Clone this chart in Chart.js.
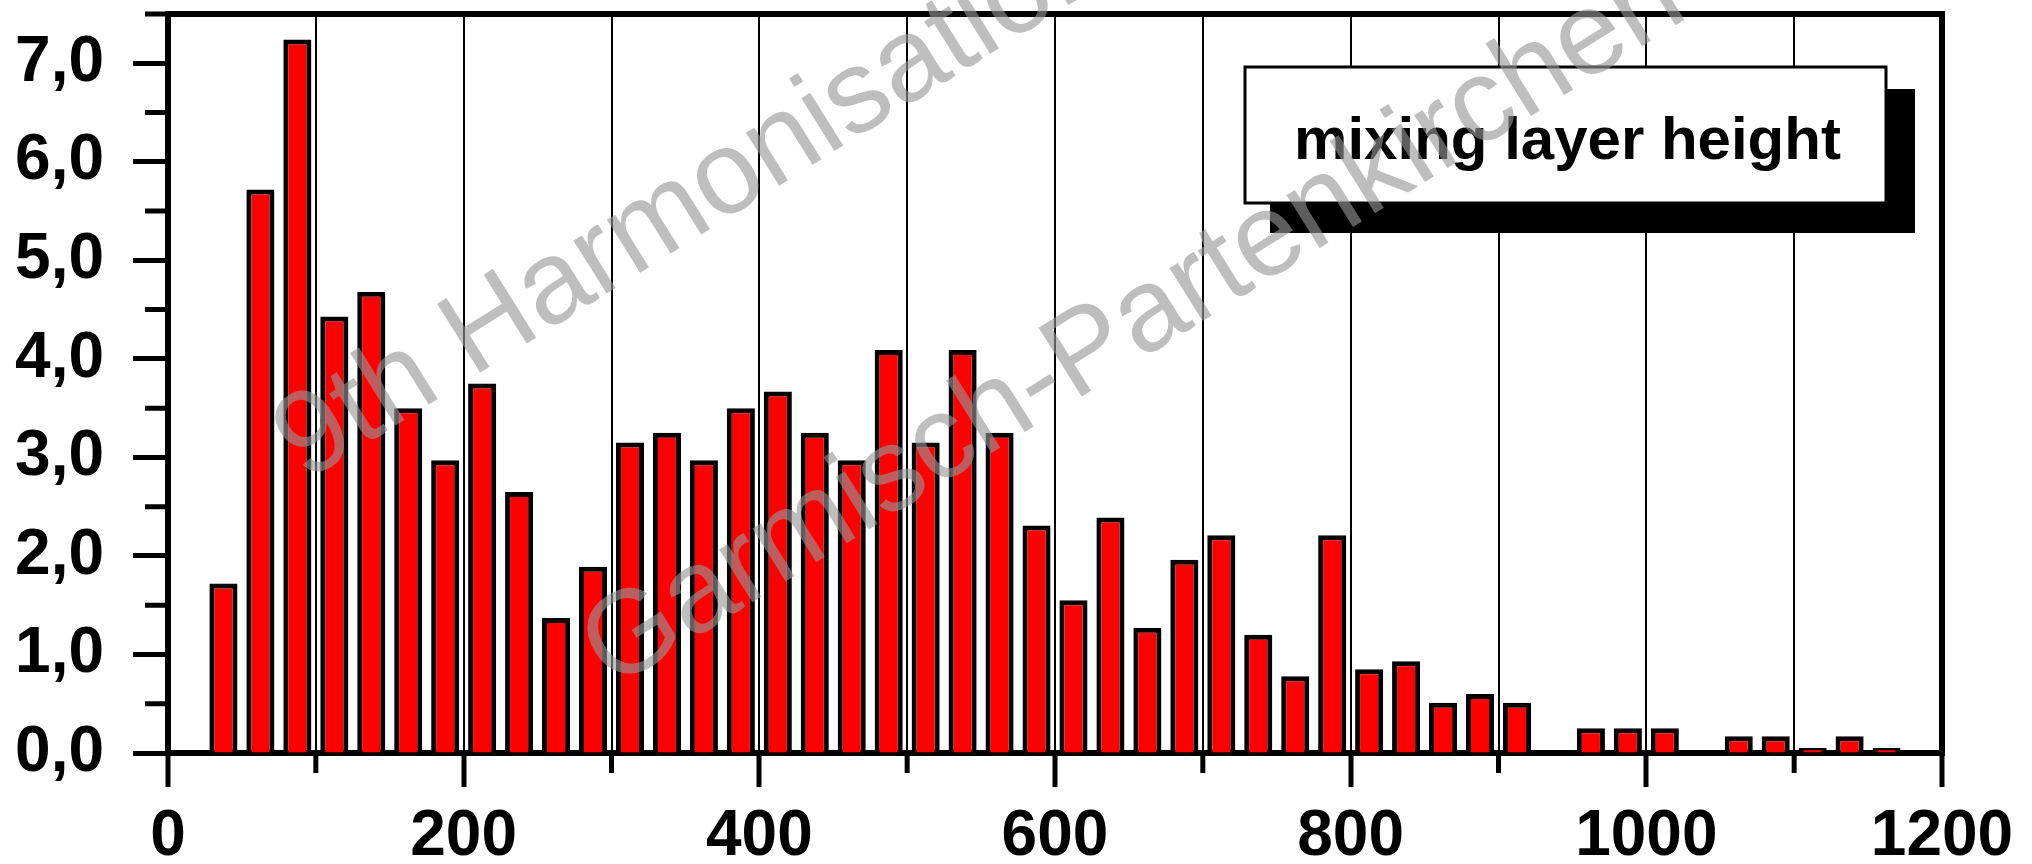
<!DOCTYPE html>
<html>
<head>
<meta charset="utf-8">
<title>mixing layer height</title>
<script src="https://cdn.jsdelivr.net/npm/chart.js@4.4.1/dist/chart.umd.min.js"></script>
<style>
  html, body { margin: 0; padding: 0; background: #fff; }
  #wrap { width: 2032px; height: 864px; position: relative; }
</style>
</head>
<body>
<div id="wrap"><canvas id="mlhChart"></canvas></div>
<script>
// ---------- data ----------
const binCenters = [
  37.5, 62.5, 87.5, 112.5, 137.5, 162.5, 187.5, 212.5, 237.5, 262.5,
  287.5, 312.5, 337.5, 362.5, 387.5, 412.5, 437.5, 462.5, 487.5, 512.5,
  537.5, 562.5, 587.5, 612.5, 637.5, 662.5, 687.5, 712.5, 737.5, 762.5,
  787.5, 812.5, 837.5, 862.5, 887.5, 912.5, 937.5, 962.5, 987.5, 1012.5,
  1037.5, 1062.5, 1087.5, 1112.5, 1137.5, 1162.5
];
const frequency = [
  1.72, 5.72, 7.24, 4.43, 4.68, 3.50, 2.97, 3.75, 2.65, 1.37,
  1.89, 3.15, 3.25, 2.97, 3.50, 3.67, 3.25, 2.97, 4.09, 3.15,
  4.09, 3.25, 2.31, 1.55, 2.39, 1.27, 1.96, 2.21, 1.20, 0.78,
  2.21, 0.85, 0.93, 0.51, 0.60, 0.51, 0, 0.25, 0.25, 0.25,
  0, 0.17, 0.17, 0.05, 0.17, 0.05
];
const seriesName = "mixing layer height";

// tick positions (every tick gets a mark, only the "labeled" ones get text)
const xTicks = [0, 100, 200, 300, 400, 500, 600, 700, 800, 900, 1000, 1100, 1200];
const xLabeled = [0, 200, 400, 600, 800, 1000, 1200];
const yTicks = [0, 0.5, 1, 1.5, 2, 2.5, 3, 3.5, 4, 4.5, 5, 5.5, 6, 6.5, 7, 7.5];
const yLabeled = [0, 1, 2, 3, 4, 5, 6, 7];

const watermarkLines = ["9th Harmonisation Conference", "Garmisch-Partenkirchen"];

const FONT = '"Liberation Sans", Arial, sans-serif';

// ---------- plugins ----------
// top/right frame + short minor ticks
const framePlugin = {
  id: "frame",
  afterDraw(chart) {
    const { ctx, chartArea: a, scales } = chart;
    ctx.save();
    ctx.strokeStyle = "#000";
    ctx.lineCap = "butt";

    ctx.lineWidth = 6;
    ctx.beginPath();
    ctx.moveTo(a.left - 3, a.top);
    ctx.lineTo(a.right, a.top);
    ctx.lineTo(a.right, a.bottom + 3);
    ctx.stroke();

    ctx.lineWidth = 5;
    ctx.beginPath();
    scales.y.ticks.forEach((t) => {
      if (yLabeled.includes(t.value)) return;
      const y = scales.y.getPixelForValue(t.value);
      ctx.moveTo(a.left - 3, y);
      ctx.lineTo(a.left - 23, y);
    });
    scales.x.ticks.forEach((t) => {
      if (xLabeled.includes(t.value)) return;
      const x = scales.x.getPixelForValue(t.value);
      ctx.moveTo(x, a.bottom + 3);
      ctx.lineTo(x, a.bottom + 20);
    });
    ctx.stroke();
    ctx.restore();
  }
};

// boxed legend with a solid drop shadow
const legendBoxPlugin = {
  id: "legendBox",
  afterDraw(chart) {
    const { ctx, chartArea: a } = chart;
    const x = a.right - 697, y = a.top + 53, w = 641, h = 136;
    ctx.save();
    ctx.fillStyle = "#000";
    ctx.fillRect(x + 25, y + 22, w + 4, h + 8);
    ctx.fillStyle = "#fff";
    ctx.fillRect(x, y, w, h);
    ctx.lineWidth = 3;
    ctx.strokeStyle = "#000";
    ctx.strokeRect(x, y, w, h);
    ctx.fillStyle = "#000";
    ctx.font = "bold 60px " + FONT;
    ctx.textAlign = "center";
    ctx.textBaseline = "alphabetic";
    ctx.fillText(chart.data.datasets[0].label, x + w / 2 + 2, y + 92);
    ctx.restore();
  }
};

// grey diagonal text stamped over the plot
const watermarkPlugin = {
  id: "watermark",
  afterDraw(chart) {
    const { ctx } = chart;
    const angle = -32 * Math.PI / 180;
    const starts = [[305, 482], [612, 690]];
    ctx.save();
    ctx.fillStyle = "rgba(150,150,150,0.62)";
    ctx.font = "118px " + FONT;
    ctx.textAlign = "left";
    ctx.textBaseline = "alphabetic";
    watermarkLines.forEach((txt, i) => {
      ctx.save();
      ctx.translate(starts[i][0], starts[i][1]);
      ctx.rotate(angle);
      ctx.fillText(txt, 0, 0);
      ctx.restore();
    });
    ctx.restore();
  }
};

// ---------- chart ----------
const tickFont = { family: FONT, weight: "bold", size: 64 };

new Chart(document.getElementById("mlhChart"), {
  type: "bar",
  data: {
    datasets: [
      {
        label: seriesName,
        data: binCenters.map((x, i) => ({ x: x, y: frequency[i] })),
        backgroundColor: "#ff0000",
        borderColor: "#000",
        borderWidth: 5,
        borderSkipped: "start",
        barPercentage: 0.76,
        categoryPercentage: 1.0
      }
    ]
  },
  options: {
    responsive: true,
    maintainAspectRatio: false,
    animation: false,
    devicePixelRatio: 1,
    layout: { padding: { top: 14, right: 90, left: 0, bottom: 0 } },
    plugins: {
      legend: { display: false },
      tooltip: { enabled: false }
    },
    scales: {
      x: {
        type: "linear",
        min: 0,
        max: 1200,
        offset: false,
        z: 1,
        afterBuildTicks: (s) => { s.ticks = xTicks.map((v) => ({ value: v })); },
        afterFit: (s) => { s.height = 111; s.paddingLeft = 0; s.paddingRight = 0; },
        grid: {
          offset: false,
          color: "#000",
          lineWidth: 2,
          tickLength: 34,
          tickWidth: 5,
          tickColor: (c) => (c.tick && xLabeled.includes(c.tick.value) ? "#000" : "rgba(0,0,0,0)")
        },
        border: { color: "#000", width: 6 },
        ticks: {
          autoSkip: false,
          maxRotation: 0,
          padding: 12,
          color: "#000",
          font: tickFont,
          callback: (v) => (xLabeled.includes(v) ? String(v) : "")
        }
      },
      y: {
        min: 0,
        max: 7.5,
        afterBuildTicks: (s) => { s.ticks = yTicks.map((v) => ({ value: v })); },
        afterFit: (s) => { s.width = 168; s.paddingTop = 0; s.paddingBottom = 0; },
        grid: {
          drawOnChartArea: false,
          tickLength: 35,
          tickWidth: 5,
          tickColor: (c) => (c.tick && yLabeled.includes(c.tick.value) ? "#000" : "rgba(0,0,0,0)")
        },
        border: { color: "#000", width: 6 },
        ticks: {
          autoSkip: false,
          padding: 29,
          color: "#000",
          font: tickFont,
          callback: (v) => (yLabeled.includes(v) ? v.toFixed(1).replace(".", ",") : "")
        }
      }
    }
  },
  plugins: [framePlugin, legendBoxPlugin, watermarkPlugin]
});
</script>
</body>
</html>
